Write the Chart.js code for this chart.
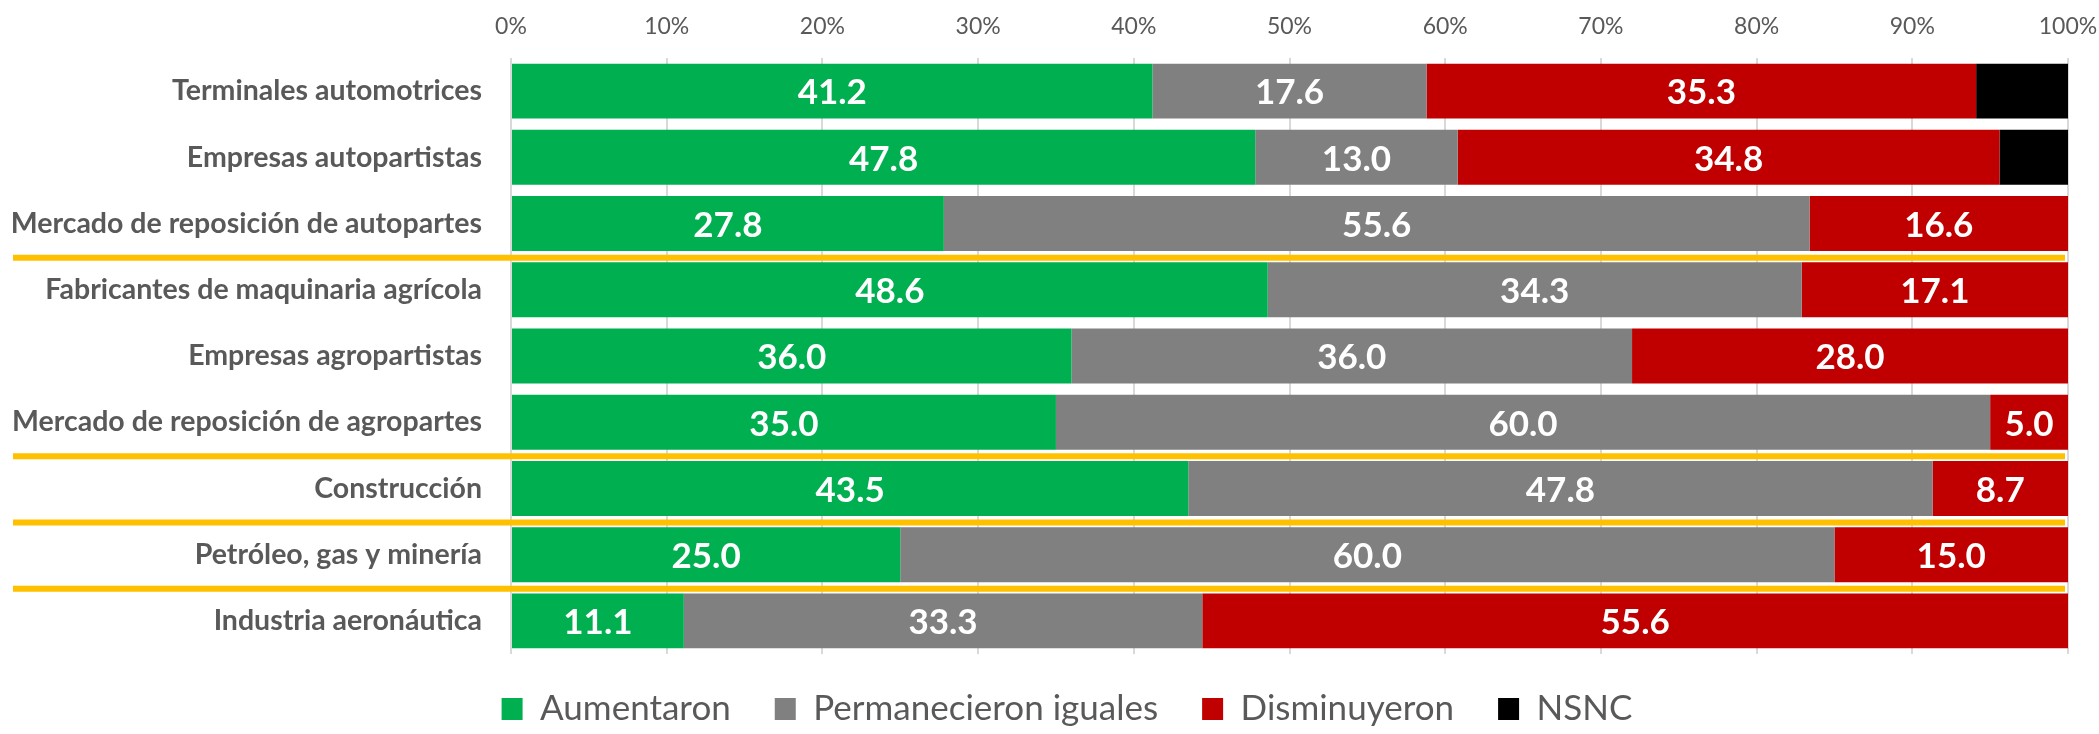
<!DOCTYPE html>
<html>
<head>
<meta charset="utf-8">
<script src="https://cdn.jsdelivr.net/npm/chart.js@4.4.1/dist/chart.umd.min.js"></script>
<style>
html,body{margin:0;padding:0;background:#ffffff;}
#wrap{width:2099px;height:734px;position:relative;}
</style>
</head>
<body>
<div id="wrap"><canvas id="c"></canvas></div>
<script>
const categories = [
  'Terminales automotrices',
  'Empresas autopartistas',
  'Mercado de reposición de autopartes',
  'Fabricantes de maquinaria agrícola',
  'Empresas agropartistas',
  'Mercado de reposición de agropartes',
  'Construcción',
  'Petróleo, gas y minería',
  'Industria aeronáutica'
];
const aumentaron    = [41.2, 47.8, 27.8, 48.6, 36.0, 35.0, 43.5, 25.0, 11.1];
const permanecieron = [17.6, 13.0, 55.6, 34.3, 36.0, 60.0, 47.8, 60.0, 33.3];
const disminuyeron  = [35.3, 34.8, 16.6, 17.1, 28.0,  5.0,  8.7, 15.0, 55.6];
const nsnc          = [ 5.9,  4.4,  0,    0,    0,    0,    0,    0,    0  ];
const seriesNames = ['Aumentaron', 'Permanecieron iguales', 'Disminuyeron', 'NSNC'];
const xTickValues = [0, 10, 20, 30, 40, 50, 60, 70, 80, 90, 100];
const separatorsAfter = [2, 5, 6, 7];

const COLORS = ['#00B050', '#808080', '#C00000', '#000000'];
const TEXT = '#595959';
const FONT = 'Lato, "Open Sans", "Liberation Sans", sans-serif';

const seriesValues = [aumentaron, permanecieron, disminuyeron, nsnc];

const valueLabels = {
  id: 'valueLabels',
  afterDatasetsDraw(chart) {
    const ctx = chart.ctx;
    ctx.save();
    ctx.font = 'bold 35px ' + FONT;
    ctx.fillStyle = '#ffffff';
    ctx.textAlign = 'center';
    ctx.textBaseline = 'middle';
    for (let d = 0; d < 3; d++) {
      const meta = chart.getDatasetMeta(d);
      meta.data.forEach((el, i) => {
        const v = seriesValues[d][i];
        if (!v) return;
        const p = el.getProps(['x', 'base', 'y'], true);
        ctx.fillText(v.toFixed(1), (p.x + p.base) / 2, p.y + 2);
      });
    }
    ctx.restore();
  }
};

const separators = {
  id: 'separators',
  afterDatasetsDraw(chart) {
    const ctx = chart.ctx;
    const y = chart.scales.y;
    ctx.save();
    ctx.strokeStyle = '#FFC000';
    ctx.lineWidth = 6;
    separatorsAfter.forEach(idx => {
      const py = (y.getPixelForValue(idx) + y.getPixelForValue(idx + 1)) / 2 + 1;
      ctx.beginPath();
      ctx.moveTo(13, py);
      ctx.lineTo(chart.chartArea.right - 3, py);
      ctx.stroke();
    });
    ctx.restore();
  }
};

const legendShift = {
  id: 'legendShift',
  afterLayout(chart) {
    const lg = chart.legend;
    if (lg) {
      lg.top -= 6.5;
      lg.left += 33;
      lg.right += 33;
    }
  }
};

new Chart(document.getElementById('c'), {
  type: 'bar',
  data: {
    labels: categories,
    datasets: seriesValues.map((vals, k) => ({
      label: seriesNames[k],
      data: vals,
      backgroundColor: COLORS[k],
      borderWidth: 0,
      barPercentage: 0.83,
      categoryPercentage: 1.0
    }))
  },
  options: {
    indexAxis: 'y',
    responsive: true,
    maintainAspectRatio: false,
    animation: false,
    layout: { padding: { left: 0, right: 31, top: 0, bottom: 0 } },
    scales: {
      x: {
        position: 'top',
        stacked: true,
        min: 0,
        max: 100,
        afterBuildTicks(scale) { scale.ticks = xTickValues.map(v => ({ value: v })); },
        afterFit(scale) { scale.height = 58; scale.paddingLeft = 0; scale.paddingRight = 0; },
        grid: { color: '#D9D9D9', lineWidth: 2, drawTicks: false },
        border: { display: false },
        ticks: {
          color: TEXT,
          padding: 18,
          font: { family: FONT, size: 23 },
          callback: v => v + '%'
        }
      },
      y: {
        stacked: true,
        afterFit(scale) { scale.width = 511; },
        grid: { display: false, drawTicks: false },
        border: { display: false },
        ticks: {
          color: TEXT,
          padding: 29,
          font: { family: FONT, size: 28.5, weight: 'bold' }
        }
      }
    },
    plugins: {
      legend: {
        position: 'bottom',
        maxHeight: 80,
        labels: {
          color: TEXT,
          font: { family: FONT, size: 35 },
          boxWidth: 21,
          boxHeight: 22,
          padding: 44
        }
      },
      tooltip: { enabled: false }
    }
  },
  plugins: [valueLabels, separators, legendShift]
});
</script>
</body>
</html>
